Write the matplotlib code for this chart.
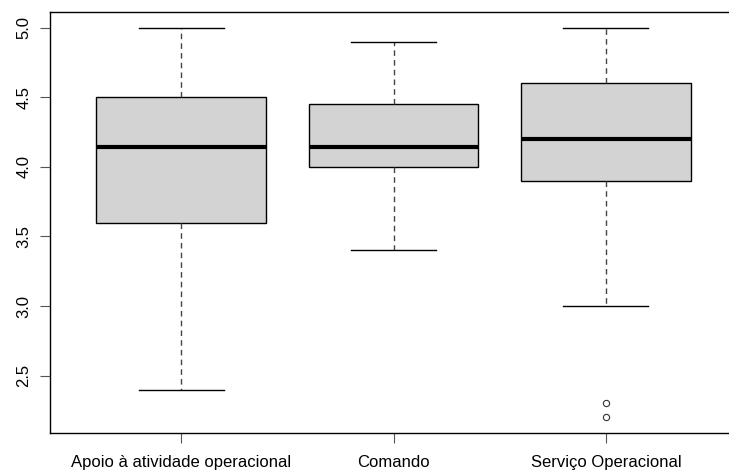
import matplotlib.pyplot as plt

categories = ['Apoio à atividade operacional', 'Comando', 'Serviço Operacional']
medians = [4.14, 4.14, 4.20]
q1 = [3.60, 4.00, 3.90]
q3 = [4.50, 4.45, 4.60]
whislo = [2.40, 3.40, 3.00]
whishi = [5.00, 4.90, 5.00]
fliers = [[], [], [2.2, 2.3]]
yticks = [2.5, 3.0, 3.5, 4.0, 4.5, 5.0]

plt.rcParams['font.family'] = ['Liberation Sans', 'DejaVu Sans']

fig = plt.figure(figsize=(7.29, 4.72), dpi=100)
ax = fig.add_axes([49.5 / 729, 39 / 472, 688 / 729, 421 / 472])

stats = []
for i, name in enumerate(categories):
    stats.append(dict(label=name, med=medians[i], q1=q1[i], q3=q3[i],
                      whislo=whislo[i], whishi=whishi[i], fliers=fliers[i]))

ax.bxp(stats, positions=[1, 2, 3], widths=0.8, patch_artist=True,
       boxprops=dict(facecolor='#d3d3d3', edgecolor='black', linewidth=1),
       medianprops=dict(color='black', linewidth=3, solid_capstyle='butt'),
       whiskerprops=dict(color='#444444', linestyle=(0, (4, 3)), linewidth=1),
       capprops=dict(color='black', linewidth=1),
       capwidths=0.4,
       flierprops=dict(marker='o', markerfacecolor='none', markeredgecolor='#333333',
                       markersize=4.5, markeredgewidth=0.8))

ax.set_xlim(0.38, 3.62)
ax.set_ylim(2.088, 5.112)
ax.set_yticks(yticks)
ax.set_yticklabels([f'{v:.1f}' for v in yticks], rotation=90, va='center', fontsize=12)
ax.set_xticks([1, 2, 3])
ax.set_xticklabels(categories, fontsize=12)
ax.tick_params(axis='both', length=7, color='#555555')
ax.tick_params(axis='x', pad=9)
ax.tick_params(axis='y', pad=6)
for s in ax.spines.values():
    s.set_linewidth(1)
    s.set_color('black')

fig.savefig('out.png', dpi=100)
